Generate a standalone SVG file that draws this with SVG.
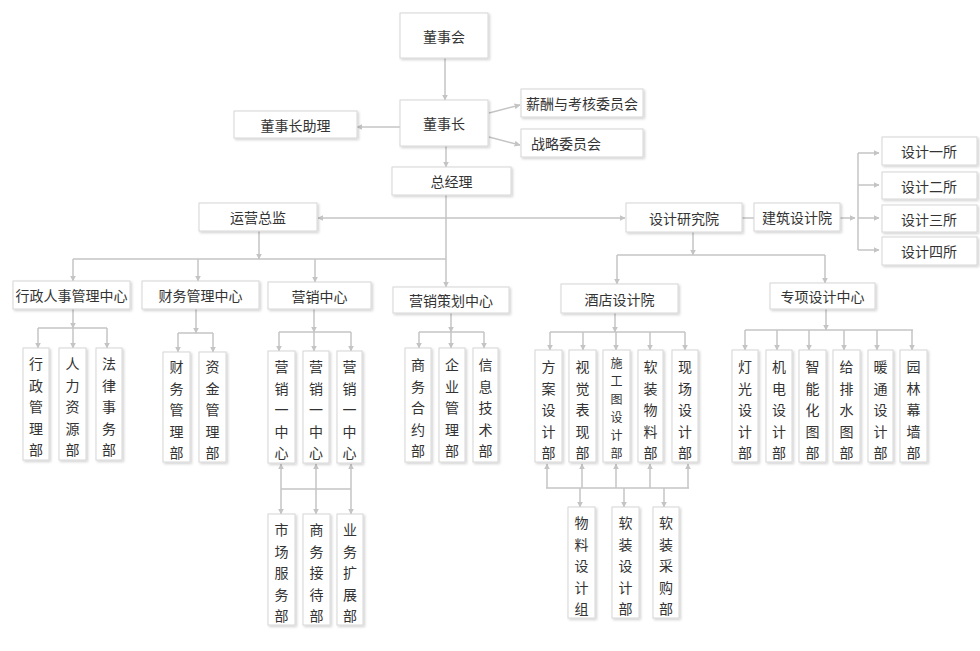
<svg xmlns="http://www.w3.org/2000/svg" width="980" height="651" viewBox="0 0 980 651">
<defs>
<marker id="ah" viewBox="0 0 10 10" refX="9" refY="5" markerWidth="6" markerHeight="6" markerUnits="userSpaceOnUse" orient="auto-start-reverse"><path d="M0,0 L10,5 L0,10 z" fill="#c4c4c4"/></marker>
<filter id="sh" x="-20%" y="-20%" width="140%" height="140%"><feDropShadow dx="1.5" dy="1.5" stdDeviation="1" flood-color="#000" flood-opacity="0.18"/></filter>
</defs>
<style>
rect{fill:#fff;stroke:#d6d6d6;stroke-width:1;filter:url(#sh)}
text{font-family:"Noto Sans CJK SC","Noto Sans",sans-serif;font-size:14px;fill:#333;text-anchor:middle;dominant-baseline:central}
.sm{font-size:12px}
.c line,.c polyline{stroke:#c4c4c4;stroke-width:1.5;fill:none}
.a{marker-end:url(#ah)}
.b{marker-start:url(#ah);marker-end:url(#ah)}
</style>
<rect x="0" y="0" width="980" height="651" style="fill:#fff;stroke:none;filter:none"/>
<g class="c" id="connectors">
<line class="a" x1="445" y1="58" x2="445" y2="100"/>
<line class="a" x1="400" y1="127" x2="357" y2="127"/>
<line class="a" x1="489" y1="113" x2="520" y2="105"/>
<line class="a" x1="489" y1="137" x2="520" y2="145"/>
<line class="a" x1="446" y1="146" x2="446" y2="167"/>
<line class="a" x1="446" y1="195" x2="446" y2="287"/>
<line class="b" x1="318" y1="218" x2="625" y2="218"/>
<line class="a" x1="259" y1="231" x2="259" y2="259"/>
<line x1="73" y1="259" x2="446" y2="259"/>
<line class="a" x1="73" y1="259" x2="73" y2="281"/>
<line class="a" x1="198" y1="259" x2="198" y2="281"/>
<line class="a" x1="315" y1="259" x2="315" y2="282"/>
<line class="a" x1="73" y1="309" x2="73" y2="328"/>
<line x1="38" y1="328" x2="107" y2="328"/>
<line class="a" x1="38" y1="328" x2="38" y2="348"/>
<line class="a" x1="73" y1="328" x2="73" y2="348"/>
<line class="a" x1="107" y1="328" x2="107" y2="348"/>
<line class="a" x1="196" y1="309" x2="196" y2="333"/>
<line x1="178" y1="333" x2="213" y2="333"/>
<line class="a" x1="178" y1="333" x2="178" y2="352"/>
<line class="a" x1="213" y1="333" x2="213" y2="352"/>
<line class="a" x1="314" y1="309" x2="314" y2="332"/>
<line x1="279" y1="332" x2="351" y2="332"/>
<line class="a" x1="279" y1="332" x2="279" y2="351"/>
<line class="a" x1="314" y1="332" x2="314" y2="351"/>
<line class="a" x1="351" y1="332" x2="351" y2="351"/>
<line class="b" x1="281" y1="464" x2="281" y2="514"/>
<line class="b" x1="316" y1="464" x2="316" y2="514"/>
<line class="b" x1="351" y1="464" x2="351" y2="514"/>
<line x1="281" y1="489" x2="351" y2="489"/>
<line class="a" x1="451" y1="313" x2="451" y2="332"/>
<line x1="419" y1="332" x2="484" y2="332"/>
<line class="a" x1="419" y1="332" x2="419" y2="348"/>
<line class="a" x1="451" y1="332" x2="451" y2="348"/>
<line class="a" x1="484" y1="332" x2="484" y2="348"/>
<line class="a" x1="693" y1="232" x2="693" y2="255"/>
<line x1="617" y1="255" x2="825" y2="255"/>
<line class="a" x1="617" y1="255" x2="617" y2="284"/>
<line class="a" x1="825" y1="255" x2="825" y2="283"/>
<line x1="742" y1="218" x2="754" y2="218"/>
<line class="a" x1="840" y1="218" x2="855" y2="218"/>
<line x1="858" y1="153" x2="858" y2="250"/>
<line class="a" x1="858" y1="153" x2="879" y2="153"/>
<line class="a" x1="858" y1="185" x2="879" y2="185"/>
<line class="a" x1="858" y1="218" x2="879" y2="218"/>
<line class="a" x1="858" y1="250" x2="879" y2="250"/>
<line class="a" x1="615" y1="313" x2="615" y2="332"/>
<line x1="550" y1="332" x2="685" y2="332"/>
<line class="a" x1="550" y1="332" x2="550" y2="350"/>
<line class="a" x1="583" y1="332" x2="583" y2="350"/>
<line class="a" x1="616" y1="332" x2="616" y2="350"/>
<line class="a" x1="650" y1="332" x2="650" y2="350"/>
<line class="a" x1="685" y1="332" x2="685" y2="350"/>
<line x1="546" y1="488" x2="689" y2="488"/>
<line class="a" x1="547" y1="488" x2="547" y2="464"/>
<line class="a" x1="582" y1="488" x2="582" y2="464"/>
<line class="a" x1="616" y1="488" x2="616" y2="464"/>
<line class="a" x1="650" y1="488" x2="650" y2="464"/>
<line class="a" x1="688" y1="488" x2="688" y2="464"/>
<line class="a" x1="580" y1="488" x2="580" y2="507"/>
<line class="a" x1="624" y1="488" x2="624" y2="507"/>
<line class="a" x1="664" y1="488" x2="664" y2="507"/>
<line class="a" x1="826" y1="309" x2="826" y2="330"/>
<line x1="745" y1="330" x2="913" y2="330"/>
<line class="a" x1="745" y1="330" x2="745" y2="350"/>
<line class="a" x1="777" y1="330" x2="777" y2="350"/>
<line class="a" x1="809" y1="330" x2="809" y2="350"/>
<line class="a" x1="844" y1="330" x2="844" y2="350"/>
<line class="a" x1="877" y1="330" x2="877" y2="350"/>
<line class="a" x1="912" y1="330" x2="912" y2="350"/>
</g>
<g id="n_dongshihui"><rect x="400" y="13" width="88" height="45"/><text x="444" y="35.5">董事会</text></g>
<g id="n_dongshizhang"><rect x="400" y="100" width="88" height="46"/><text x="444" y="123">董事长</text></g>
<g id="n_zhuli"><rect x="234" y="111" width="123" height="27"/><text x="295.5" y="124.5">董事长助理</text></g>
<g id="n_xinchou"><rect x="521" y="89" width="122" height="28"/><text x="582" y="103">薪酬与考核委员会</text></g>
<g id="n_zhanlue"><rect x="521" y="129" width="122" height="28"/><text x="531" y="143" style="text-anchor:start">战略委员会</text></g>
<g id="n_zongjingli"><rect x="392" y="167" width="119" height="28"/><text x="451.5" y="181">总经理</text></g>
<g id="n_yunying"><rect x="199" y="203" width="118" height="28"/><text x="258" y="217">运营总监</text></g>
<g id="n_sheji"><rect x="626" y="203" width="116" height="29"/><text x="684" y="217.5">设计研究院</text></g>
<g id="n_jianzhu"><rect x="754" y="203" width="86" height="28"/><text x="797" y="217">建筑设计院</text></g>
<g id="n_s1"><rect x="882" y="137" width="95" height="28"/><text x="929" y="151">设计一所</text></g>
<g id="n_s2"><rect x="882" y="172" width="95" height="27"/><text x="929" y="185.5">设计二所</text></g>
<g id="n_s3"><rect x="882" y="205" width="95" height="27"/><text x="929" y="218.5">设计三所</text></g>
<g id="n_s4"><rect x="882" y="237" width="95" height="28"/><text x="929" y="251">设计四所</text></g>
<g id="n_xingzheng"><rect x="13" y="281" width="117" height="28"/><text x="71.5" y="295">行政人事管理中心</text></g>
<g id="n_caiwu"><rect x="142" y="281" width="117" height="28"/><text x="200.5" y="295">财务管理中心</text></g>
<g id="n_yingxiao"><rect x="268" y="282" width="103" height="27"/><text x="319.5" y="295.5">营销中心</text></g>
<g id="n_cehua"><rect x="393" y="287" width="116" height="26"/><text x="451" y="300">营销策划中心</text></g>
<g id="n_jiudian"><rect x="561" y="284" width="117" height="29"/><text x="619.5" y="298.5">酒店设计院</text></g>
<g id="n_zhuanxiang"><rect x="770" y="283" width="105" height="26"/><text x="822.5" y="296">专项设计中心</text></g>

<g id="v_xzgl"><rect x="23" y="348" width="26" height="112"/><text x="36" y="363">行</text><text x="36" y="384.5">政</text><text x="36" y="406">管</text><text x="36" y="427.5">理</text><text x="36" y="449">部</text></g>
<g id="v_rlzy"><rect x="59" y="348" width="27" height="112"/><text x="72.5" y="363">人</text><text x="72.5" y="384.5">力</text><text x="72.5" y="406">资</text><text x="72.5" y="427.5">源</text><text x="72.5" y="449">部</text></g>
<g id="v_flsw"><rect x="96" y="348" width="26" height="112"/><text x="109" y="363">法</text><text x="109" y="384.5">律</text><text x="109" y="406">事</text><text x="109" y="427.5">务</text><text x="109" y="449">部</text></g>
<g id="v_cwgl"><rect x="163" y="352" width="27" height="110"/><text x="176.5" y="366">财</text><text x="176.5" y="387.5">务</text><text x="176.5" y="409">管</text><text x="176.5" y="430.5">理</text><text x="176.5" y="452">部</text></g>
<g id="v_zjgl"><rect x="199" y="352" width="27" height="110"/><text x="212.5" y="366">资</text><text x="212.5" y="387.5">金</text><text x="212.5" y="409">管</text><text x="212.5" y="430.5">理</text><text x="212.5" y="452">部</text></g>
<g id="v_yx1"><rect x="268" y="351" width="27" height="112"/><text x="281.5" y="366">营</text><text x="281.5" y="387.5">销</text><text x="281.5" y="409">一</text><text x="281.5" y="430.5">中</text><text x="281.5" y="452">心</text></g>
<g id="v_yx2"><rect x="303" y="351" width="26" height="112"/><text x="316" y="366">营</text><text x="316" y="387.5">销</text><text x="316" y="409">一</text><text x="316" y="430.5">中</text><text x="316" y="452">心</text></g>
<g id="v_yx3"><rect x="337" y="351" width="25" height="112"/><text x="349.5" y="366">营</text><text x="349.5" y="387.5">销</text><text x="349.5" y="409">一</text><text x="349.5" y="430.5">中</text><text x="349.5" y="452">心</text></g>
<g id="v_scfw"><rect x="268" y="514" width="27" height="111"/><text x="281.5" y="529">市</text><text x="281.5" y="550.5">场</text><text x="281.5" y="572">服</text><text x="281.5" y="593.5">务</text><text x="281.5" y="615">部</text></g>
<g id="v_swjd"><rect x="303" y="514" width="27" height="111"/><text x="316.5" y="529">商</text><text x="316.5" y="550.5">务</text><text x="316.5" y="572">接</text><text x="316.5" y="593.5">待</text><text x="316.5" y="615">部</text></g>
<g id="v_ywkz"><rect x="337" y="514" width="26" height="111"/><text x="350" y="529">业</text><text x="350" y="550.5">务</text><text x="350" y="572">扩</text><text x="350" y="593.5">展</text><text x="350" y="615">部</text></g>
<g id="v_swhy"><rect x="405" y="348" width="26" height="114"/><text x="418" y="364">商</text><text x="418" y="385.5">务</text><text x="418" y="407">合</text><text x="418" y="428.5">约</text><text x="418" y="450">部</text></g>
<g id="v_qygl"><rect x="439" y="348" width="26" height="114"/><text x="452" y="364">企</text><text x="452" y="385.5">业</text><text x="452" y="407">管</text><text x="452" y="428.5">理</text><text x="452" y="450">部</text></g>
<g id="v_xxjs"><rect x="473" y="348" width="25" height="114"/><text x="485.5" y="364">信</text><text x="485.5" y="385.5">息</text><text x="485.5" y="407">技</text><text x="485.5" y="428.5">术</text><text x="485.5" y="450">部</text></g>
<g id="v_fasj"><rect x="535" y="350" width="27" height="112"/><text x="548.5" y="366">方</text><text x="548.5" y="387.5">案</text><text x="548.5" y="409">设</text><text x="548.5" y="430.5">计</text><text x="548.5" y="452">部</text></g>
<g id="v_sjbx"><rect x="569" y="350" width="27" height="112"/><text x="582.5" y="366">视</text><text x="582.5" y="387.5">觉</text><text x="582.5" y="409">表</text><text x="582.5" y="430.5">现</text><text x="582.5" y="452">部</text></g>
<g id="v_sgt"><rect x="603" y="350" width="27" height="112"/><text class="sm" x="616.5" y="362">施</text><text class="sm" x="616.5" y="380">工</text><text class="sm" x="616.5" y="398">图</text><text class="sm" x="616.5" y="416">设</text><text class="sm" x="616.5" y="434">计</text><text class="sm" x="616.5" y="452">部</text></g>
<g id="v_rzwl"><rect x="638" y="350" width="25" height="112"/><text x="650.5" y="366">软</text><text x="650.5" y="387.5">装</text><text x="650.5" y="409">物</text><text x="650.5" y="430.5">料</text><text x="650.5" y="452">部</text></g>
<g id="v_xcsj"><rect x="672" y="350" width="26" height="112"/><text x="685" y="366">现</text><text x="685" y="387.5">场</text><text x="685" y="409">设</text><text x="685" y="430.5">计</text><text x="685" y="452">部</text></g>
<g id="v_wlsj"><rect x="568" y="507" width="27" height="111"/><text x="581.5" y="522">物</text><text x="581.5" y="543.5">料</text><text x="581.5" y="565">设</text><text x="581.5" y="586.5">计</text><text x="581.5" y="608">组</text></g>
<g id="v_rzsj"><rect x="612" y="507" width="27" height="111"/><text x="625.5" y="522">软</text><text x="625.5" y="543.5">装</text><text x="625.5" y="565">设</text><text x="625.5" y="586.5">计</text><text x="625.5" y="608">部</text></g>
<g id="v_rzcg"><rect x="653" y="507" width="26" height="111"/><text x="666" y="522">软</text><text x="666" y="543.5">装</text><text x="666" y="565">采</text><text x="666" y="586.5">购</text><text x="666" y="608">部</text></g>
<g id="v_dg"><rect x="732" y="350" width="26" height="112"/><text x="745" y="366">灯</text><text x="745" y="387.5">光</text><text x="745" y="409">设</text><text x="745" y="430.5">计</text><text x="745" y="452">部</text></g>
<g id="v_jd"><rect x="766" y="350" width="26" height="112"/><text x="779" y="366">机</text><text x="779" y="387.5">电</text><text x="779" y="409">设</text><text x="779" y="430.5">计</text><text x="779" y="452">部</text></g>
<g id="v_znh"><rect x="799" y="350" width="27" height="112"/><text x="812.5" y="366">智</text><text x="812.5" y="387.5">能</text><text x="812.5" y="409">化</text><text x="812.5" y="430.5">图</text><text x="812.5" y="452">部</text></g>
<g id="v_gps"><rect x="833" y="350" width="27" height="112"/><text x="846.5" y="366">给</text><text x="846.5" y="387.5">排</text><text x="846.5" y="409">水</text><text x="846.5" y="430.5">图</text><text x="846.5" y="452">部</text></g>
<g id="v_nt"><rect x="868" y="350" width="25" height="112"/><text x="880.5" y="366">暖</text><text x="880.5" y="387.5">通</text><text x="880.5" y="409">设</text><text x="880.5" y="430.5">计</text><text x="880.5" y="452">部</text></g>
<g id="v_yl"><rect x="900" y="350" width="27" height="112"/><text x="913.5" y="366">园</text><text x="913.5" y="387.5">林</text><text x="913.5" y="409">幕</text><text x="913.5" y="430.5">墙</text><text x="913.5" y="452">部</text></g>
</svg>
